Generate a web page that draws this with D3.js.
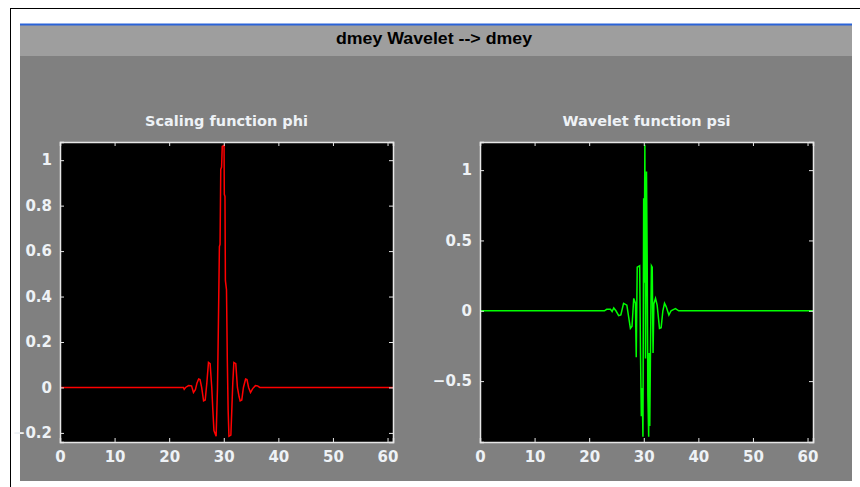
<!DOCTYPE html>
<html>
<head>
<meta charset="utf-8">
<script src="https://cdn.jsdelivr.net/npm/d3@7"></script>
<style>
  html, body { margin: 0; padding: 0; background: #ffffff; }
  svg { display: block; }
</style>
</head>
<body>
<svg id="chart" width="860" height="487"></svg>
<script>
// Figure title
const figureTitle = "dmey Wavelet --> dmey";
const phiTitle = "Scaling function phi";
const psiTitle = "Wavelet function psi";

// Shared x ticks (support 0..61)
const xDomain = [0, 61];
const xTicks = [0, 10, 20, 30, 40, 50, 60];

// Scaling function phi samples
const phiX = [0, 22.6, 22.75, 23.0, 23.55, 24.1, 24.45, 24.8, 25.1, 25.4, 25.65, 25.95, 26.3, 26.6, 26.9, 27.2, 27.5, 27.8, 28.0, 28.2, 28.6, 28.85, 29.0, 29.2, 29.32, 29.45, 29.6, 29.72, 30.05, 30.1, 30.22, 30.3, 30.5, 30.65, 30.8, 30.95, 31.3, 31.5, 31.65, 31.85, 32.2, 32.5, 32.8, 33.0, 33.3, 33.6, 34.0, 34.25, 34.55, 34.9, 35.3, 35.8, 36.2, 36.6, 37.0, 61];
const phiY = [0, 0, -0.008, 0.0, 0.008, 0.007, -0.022, -0.01, 0.02, 0.037, 0.035, 0.0, -0.059, -0.055, 0.02, 0.11, 0.105, 0.0, -0.1, -0.19, -0.215, 0.0, 0.25, 0.62, 0.63, 0.96, 0.97, 1.06, 1.065, 0.85, 0.84, 0.47, 0.43, 0.12, -0.1, -0.215, -0.21, -0.08, 0.02, 0.11, 0.105, 0.0, -0.04, -0.059, -0.055, 0.0, 0.037, 0.035, 0.0, -0.022, -0.005, 0.008, 0.007, 0.0, 0, 0];
const phiDomain = [-0.24, 1.08];
const phiTicks = [-0.2, 0, 0.2, 0.4, 0.6, 0.8, 1];

// Wavelet function psi samples
const psiX = [0, 22.8, 23.2, 23.9, 24.2, 24.5, 24.9, 25.4, 25.8, 26.3, 26.9, 27.55, 27.85, 28.16, 28.47, 28.62, 28.8, 29.25, 29.4, 29.55, 29.7, 29.85, 29.98, 30.08, 30.2, 30.32, 30.5, 30.62, 30.75, 30.9, 31.0, 31.1, 31.25, 31.4, 31.55, 31.7, 31.85, 32.15, 32.45, 32.88, 33.18, 33.5, 33.8, 34.1, 34.6, 35.0, 35.5, 35.8, 36.4, 37.0, 61];
const psiY = [0, 0, 0.01, 0.01, -0.005, 0.02, 0.0, -0.035, -0.03, 0.053, 0.04, -0.125, -0.11, 0.088, 0.054, -0.33, 0.31, 0.32, -0.3, -0.75, -0.55, -0.895, 0.80, 0.2, 1.18, -0.34, 0.99, 0.4, -0.6, -0.895, -0.3, -0.82, -0.2, 0.32, 0.31, -0.3, 0.05, 0.088, 0.04, -0.125, -0.12, 0.0, 0.053, 0.03, -0.03, 0.0, 0.01, 0.015, 0.0, 0, 0];
const psiDomain = [-0.933, 1.2];
const psiTicks = [-0.5, 0, 0.5, 1];

const svg = d3.select("#chart");

// Window frame
svg.append("line").attr("x1", 10).attr("y1", 8.5).attr("x2", 860).attr("y2", 8.5)
  .attr("stroke", "#000").attr("stroke-width", 1);
svg.append("line").attr("x1", 10.5).attr("y1", 8).attr("x2", 10.5).attr("y2", 487)
  .attr("stroke", "#000").attr("stroke-width", 1);

// Gray panel and title bar
svg.append("rect").attr("x", 20).attr("y", 24).attr("width", 832).attr("height", 457)
  .attr("fill", "#808080");
svg.append("rect").attr("x", 20).attr("y", 24).attr("width", 832).attr("height", 32)
  .attr("fill", "#9e9e9e");
svg.append("line").attr("x1", 20).attr("y1", 24.5).attr("x2", 852).attr("y2", 24.5)
  .attr("stroke", "#2a63d8").attr("stroke-width", 2);
svg.append("text").attr("x", 434).attr("y", 44)
  .attr("text-anchor", "middle")
  .attr("font-family", "Liberation Sans, Arial, sans-serif")
  .attr("font-weight", "bold").attr("font-size", 16)
  .attr("textLength", 196).attr("lengthAdjust", "spacingAndGlyphs")
  .attr("fill", "#000").text(figureTitle);

function drawPanel(opts) {
  const { left, right, top, bottom, xs, ys, yDomain, yTicks, color, title, yFormat } = opts;
  const x = d3.scaleLinear().domain(xDomain).range([left, right]);
  const y = d3.scaleLinear().domain(yDomain).range([bottom, top]);
  const g = svg.append("g");

  g.append("rect").attr("x", left).attr("y", top)
    .attr("width", right - left).attr("height", bottom - top).attr("fill", "#000");

  const clipId = "clip" + Math.round(left);
  g.append("clipPath").attr("id", clipId).append("rect")
    .attr("x", left).attr("y", top).attr("width", right - left).attr("height", bottom - top);

  const pts = xs.map((v, i) => [v, ys[i]]);
  const line = d3.line().x(d => x(d[0])).y(d => y(d[1]));
  g.append("path").datum(pts)
    .attr("clip-path", `url(#${clipId})`)
    .attr("d", line).attr("fill", "none")
    .attr("stroke", color).attr("stroke-width", 1.5)
    .attr("stroke-linejoin", "miter");

  const tickColor = "#e6e6e6";
  const font = "DejaVu Sans, Verdana, sans-serif";

  // Bottom axis with inward ticks
  const bx = g.append("g").attr("transform", `translate(0,${bottom})`)
    .call(d3.axisBottom(x).tickValues(xTicks).tickSize(-4).tickPadding(9).tickFormat(d3.format("d")));
  // Top axis, ticks only
  const tx = g.append("g").attr("transform", `translate(0,${top})`)
    .call(d3.axisTop(x).tickValues(xTicks).tickSize(-4).tickFormat(""));
  // Left axis with inward ticks
  const ly = g.append("g").attr("transform", `translate(${left},0)`)
    .call(d3.axisLeft(y).tickValues(yTicks).tickSize(-4).tickPadding(8).tickFormat(yFormat));
  // Right axis, ticks only
  const ry = g.append("g").attr("transform", `translate(${right},0)`)
    .call(d3.axisRight(y).tickValues(yTicks).tickSize(-4).tickFormat(""));

  [bx, tx, ly, ry].forEach(a => {
    a.select(".domain").attr("stroke", tickColor).attr("stroke-width", 1.5);
    a.selectAll(".tick line").attr("stroke", tickColor).attr("stroke-width", 1);
    a.selectAll(".tick text")
      .attr("fill", "#eef2f6")
      .attr("font-family", font)
      .attr("font-weight", "bold")
      .attr("font-size", 15);
  });

  g.append("text").attr("x", (left + right) / 2).attr("y", top - 16)
    .attr("text-anchor", "middle")
    .attr("font-family", font).attr("font-weight", "bold").attr("font-size", 14.5)
    .attr("fill", "#eef2f6").text(title);
}

const fmt = d => (d === 0 ? "0" : d3.format("")(Math.round(d * 10) / 10));

drawPanel({ left: 60, right: 393, top: 142, bottom: 442, xs: phiX, ys: phiY,
  yDomain: phiDomain, yTicks: phiTicks, color: "#ff0000", title: phiTitle, yFormat: fmt });
drawPanel({ left: 480, right: 813, top: 142, bottom: 442, xs: psiX, ys: psiY,
  yDomain: psiDomain, yTicks: psiTicks, color: "#00ff00", title: psiTitle, yFormat: fmt });
</script>
</body>
</html>
